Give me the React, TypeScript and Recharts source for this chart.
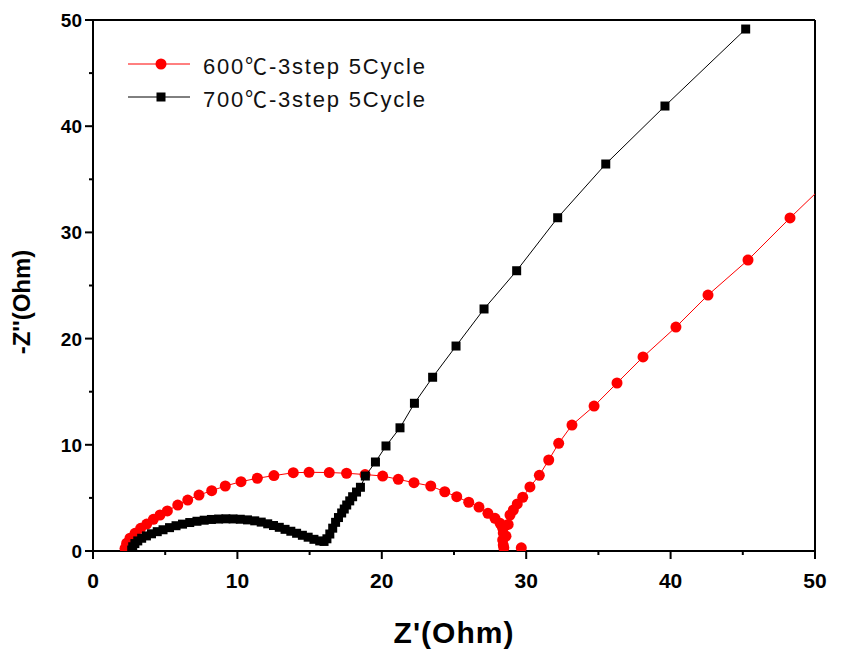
import { ScatterChart, Scatter, XAxis, YAxis, ReferenceLine, Legend, Label } from 'recharts'

const axisTicks = [0, 5, 10, 15, 20, 25, 30, 35, 40, 45, 50]
const labelledTicks = [0, 10, 20, 30, 40, 50]

const name600 = '600\u2103-3step 5Cycle'
const name700 = '700\u2103-3step 5Cycle'

// 600C: Z' values, then -Z'' values (Ohm)
const re600 = [
  2.22, 2.33, 2.56, 2.91, 3.3, 3.72, 4.18, 4.64, 5.15, 5.87, 6.56, 7.34, 8.22, 9.16, 10.25, 11.38,
  12.53, 13.87, 14.96, 16.36, 17.56, 18.84, 20.06, 21.14, 22.23, 23.39, 24.36, 25.19, 26.02, 26.73,
  27.35, 27.84, 28.19, 28.37, 28.41, 28.37, 28.41, 28.45, 28.6, 28.75, 28.88, 29.11, 29.38, 29.76,
  30.26, 30.91, 31.56, 32.25, 33.17, 34.7, 36.29, 38.09, 40.37, 42.59, 45.36, 48.27, 51.2,
]
const im600 = [
  0.25, 0.73, 1.2, 1.67, 2.14, 2.54, 2.98, 3.39, 3.77, 4.33, 4.8, 5.27, 5.68, 6.12, 6.53, 6.85,
  7.1, 7.37, 7.41, 7.39, 7.32, 7.2, 7.06, 6.75, 6.43, 6.12, 5.58, 5.11, 4.59, 4.14,
  3.55, 3.08, 2.61, 2.14, 1.69, 1.04, 0.56, 0.3, 1.4, 2.5, 3.39, 3.86, 4.43, 5.06,
  6.03, 7.13, 8.57, 10.14, 11.86, 13.65, 15.82, 18.27, 21.09, 24.1, 27.4, 31.36, 35.2,
]
const re600Lone = [29.66]
const im600Lone = [0.3]

// 700C
const re700 = [
  2.68, 2.75, 2.9, 3.1, 3.37, 3.7, 4.05, 4.45, 4.85, 5.3, 5.75, 6.2, 6.7, 7.2, 7.7, 8.2, 8.7, 9.2,
  9.7, 10.2, 10.7, 11.2, 11.65, 12.1, 12.5, 12.9, 13.3, 13.7, 14.1, 14.5, 14.9, 15.3, 15.7, 16.0,
  16.2, 16.4, 16.6, 16.8, 17.0, 17.22, 17.4, 17.57, 17.78, 17.98, 18.25, 18.52, 18.86, 19.56, 20.29,
  21.26, 22.26, 23.52, 25.14, 27.08, 29.34, 32.18, 35.51, 39.61, 45.2,
]
const im700 = [
  0.09, 0.4, 0.7, 0.95, 1.2, 1.42, 1.62, 1.82, 2.0, 2.2, 2.38, 2.53, 2.68, 2.8, 2.9, 2.97, 3.01, 3.03,
  3.02, 2.99, 2.93, 2.84, 2.72, 2.56, 2.4, 2.23, 2.04, 1.86, 1.67, 1.48, 1.3, 1.1, 0.95, 0.9,
  1.15, 1.6, 2.15, 2.7, 3.15, 3.58, 3.95, 4.33, 4.72, 5.11, 5.55, 6.0, 7.06, 8.38, 9.89,
  11.6, 13.91, 16.36, 19.3, 22.79, 26.39, 31.38, 36.44, 41.9, 49.15,
]

const data600 = re600.map((x, i) => ({ x, y: im600[i] }))
const data600Lone = re600Lone.map((x, i) => ({ x, y: im600Lone[i] }))
const data700 = re700.map((x, i) => ({ x, y: im700[i] }))

const RED = '#ff0000'
const BLACK = '#000000'
const tickFont = '"Liberation Sans", Arial, sans-serif'

const RedDot = (props: any) => <circle cx={props.cx} cy={props.cy} r={5.5} fill={RED} />
const BlackSquare = (props: any) => (
  <rect x={props.cx - 4.5} y={props.cy - 4.5} width={9} height={9} fill={BLACK} />
)

const XTick = ({ x, y, payload }: any) => {
  const major = labelledTicks.includes(payload.value)
  return (
    <g>
      <line x1={x} x2={x} y1={y} y2={y + (major ? 8 : 4)} stroke={BLACK} strokeWidth={2} />
      {major && (
        <text x={x} y={y + 37} textAnchor="middle" fontFamily={tickFont} fontWeight="bold" fontSize={21} fill={BLACK}>
          {payload.value}
        </text>
      )}
    </g>
  )
}

const YTick = ({ x, y, payload }: any) => {
  const major = labelledTicks.includes(payload.value)
  return (
    <g>
      <line x1={x - (major ? 8 : 4)} x2={x} y1={y} y2={y} stroke={BLACK} strokeWidth={2} />
      {major && (
        <text x={x - 11} y={y + 7} textAnchor="end" fontFamily={tickFont} fontWeight="bold" fontSize={19} fill={BLACK}>
          {payload.value}
        </text>
      )}
    </g>
  )
}

const legendItems = [
  { name: name600, color: RED, square: false },
  { name: name700, color: BLACK, square: true },
]

const LegendBox = () => (
  <div
    style={{
      fontFamily: '"Liberation Sans", Arial, "Noto Sans CJK KR", sans-serif',
      fontSize: 22,
      letterSpacing: 1.8,
      color: '#111',
      whiteSpace: 'nowrap',
    }}
  >
    {legendItems.map((it) => (
      <div key={it.name} style={{ display: 'flex', alignItems: 'center', height: 33 }}>
        <svg width={66} height={20} style={{ marginRight: 11 }}>
          <line x1={2} x2={64} y1={10} y2={10} stroke={it.color} strokeWidth={1} />
          {it.square ? (
            <rect x={30.5} y={5.5} width={9} height={9} fill={it.color} />
          ) : (
            <circle cx={35} cy={10} r={5.5} fill={it.color} />
          )}
        </svg>
        <span>{it.name}</span>
      </div>
    ))}
  </div>
)

export default function App() {
  return (
    <div style={{ width: 852, height: 654, background: '#fff' }}>
      <ScatterChart width={852} height={654} margin={{ top: 12, right: 45, bottom: 0, left: 0 }}>
        <XAxis
          type="number"
          dataKey="x"
          domain={[0, 50]}
          allowDataOverflow
          ticks={axisTicks}
          interval={0}
          tickSize={0}
          tickMargin={0}
          tickLine={false}
          tick={<XTick />}
          axisLine={{ stroke: BLACK, strokeWidth: 2 }}
          height={111}
        >
          <Label
            value="Z'(Ohm)"
            position="insideBottom"
            offset={19}
            style={{ fontFamily: tickFont, fontWeight: 'bold', fontSize: 30, letterSpacing: 1, fill: BLACK }}
          />
        </XAxis>
        <YAxis
          type="number"
          dataKey="y"
          domain={[0, 50]}
          allowDataOverflow
          ticks={axisTicks}
          interval={0}
          tickSize={0}
          tickMargin={0}
          tickLine={false}
          tick={<YTick />}
          axisLine={{ stroke: BLACK, strokeWidth: 2 }}
          width={85}
        >
          <Label
            content={() => (
              <text
                x={22}
                y={294}
                transform="rotate(-90, 22, 294)"
                textAnchor="middle"
                fontFamily={tickFont}
                fontWeight="bold"
                fontSize={24}
                fill={BLACK}
              >
                -Z''(Ohm)
              </text>
            )}
          />
        </YAxis>
        <ReferenceLine y={50} stroke={BLACK} strokeWidth={2} />
        <ReferenceLine x={50} stroke={BLACK} strokeWidth={2} />
        <Legend
          layout="vertical"
          align="center"
          verticalAlign="middle"
          content={<LegendBox />}
          wrapperStyle={{ position: 'absolute', left: 118, top: 39, width: 'auto', height: 'auto' }}
        />
        <Scatter
          name={name600}
          data={data600}
          line={{ stroke: RED, strokeWidth: 1 }}
          lineType="joint"
          shape={<RedDot />}
          isAnimationActive={false}
        />
        <Scatter name="lone" data={data600Lone} shape={<RedDot />} legendType="none" isAnimationActive={false} />
        <Scatter
          name={name700}
          data={data700}
          line={{ stroke: BLACK, strokeWidth: 1 }}
          lineType="joint"
          shape={<BlackSquare />}
          isAnimationActive={false}
        />
      </ScatterChart>
    </div>
  )
}
